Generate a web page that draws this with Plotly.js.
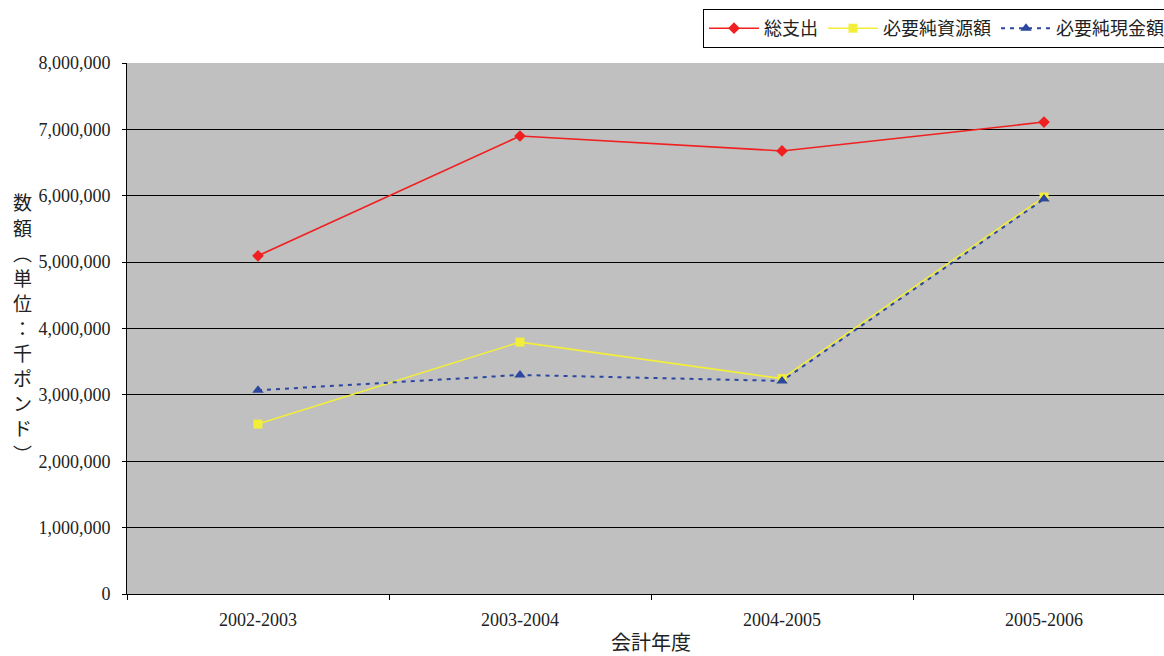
<!DOCTYPE html>
<html>
<head>
<meta charset="utf-8">
<script src="https://cdn.plot.ly/plotly-3.0.1.min.js"></script>
<style>
html,body{margin:0;padding:0;overflow:hidden;background:#fff;width:1164px;height:656px;}
#chart{width:1180px;height:656px;}
</style>
</head>
<body>
<div id="chart"></div>
<script>
const categories = ["2002-2003", "2003-2004", "2004-2005", "2005-2006"];
const totalExpenditure = [5095000, 6900000, 6675000, 7110000];
const netResources = [2560000, 3795000, 3245000, 5980000];
const netCash = [3070000, 3300000, 3210000, 5950000];
const seriesNames = ["総支出", "必要純資源額", "必要純現金額"];
const yTickVals = [0, 1000000, 2000000, 3000000, 4000000, 5000000, 6000000, 7000000, 8000000];
const yTickText = ["0", "1,000,000", "2,000,000", "3,000,000", "4,000,000", "5,000,000", "6,000,000", "7,000,000", "8,000,000"];
const xTitle = "会計年度";
const yTitleChars = ["数", "額", "︵", "単", "位", "：", "千", "ポ", "ン", "ド", "︶"];

const FONT = "Liberation Serif, Noto Sans CJK JP, serif";
const JFONT = "Noto Sans CJK JP, Liberation Serif, sans-serif";

const traces = [
  {x: categories, y: totalExpenditure, name: seriesNames[0], type: "scatter", mode: "lines+markers",
   line: {color: "#F02020", width: 1.6}, marker: {symbol: "diamond", size: 9, color: "#F02020"}},
  {x: categories, y: netResources, name: seriesNames[1], type: "scatter", mode: "lines+markers",
   line: {color: "#F2EE3A", width: 1.6}, marker: {symbol: "square", size: 9, color: "#F2EE3A"}},
  {x: categories, y: netCash, name: seriesNames[2], type: "scatter", mode: "lines+markers",
   line: {color: "#2B47A0", width: 2, dash: "4px,5px"}, marker: {symbol: "triangle-up", size: 10, color: "#2B47A0"}}
];

// vertical y-axis title: one annotation per character, stacked top to bottom
const plotTop = 63, plotH = 531, plotL = 127, plotW = 1048;
const titleTopPx = 202, titleStepPx = 25.1, titleXPx = 22;
const titleAnnotations = yTitleChars.map((ch, i) => ({
  xref: "paper", yref: "paper",
  x: (titleXPx - plotL) / plotW,
  y: (plotTop + plotH - (titleTopPx + i * titleStepPx)) / plotH,
  xanchor: "center", yanchor: "middle",
  text: ch, showarrow: false,
  font: {family: JFONT, size: 19, color: "#222"}
}));

const layout = {
  width: 1180, height: 656,
  margin: {l: plotL, r: 5, t: plotTop, b: 62},
  paper_bgcolor: "#ffffff",
  plot_bgcolor: "#C0C0C0",
  font: {family: FONT, size: 16, color: "#222"},
  showlegend: true,
  legend: {
    orientation: "h", x: (703 - plotL) / plotW, y: (plotTop + plotH - 9) / plotH, xanchor: "left", yanchor: "top",
    bgcolor: "#ffffff", bordercolor: "#000", borderwidth: 1,
    font: {family: JFONT, size: 18, color: "#222"},
    itemwidth: 50, tracegroupgap: 0
  },
  xaxis: {
    type: "category", range: [-0.5, 3.5], tickson: "boundaries",
    showline: true, linecolor: "#000", linewidth: 1,
    ticks: "outside", ticklen: 5, tickcolor: "#000",
    showgrid: false, zeroline: false,
    tickfont: {family: FONT, size: 18, color: "#222"},
    ticklabelstandoff: 9,
    title: {text: xTitle, font: {family: JFONT, size: 20, color: "#222"}, standoff: 14}
  },
  yaxis: {
    range: [0, 8000000], tickvals: yTickVals, ticktext: yTickText,
    showline: true, linecolor: "#000", linewidth: 1,
    ticks: "outside", ticklen: 4, tickcolor: "#000",
    showgrid: true, gridcolor: "#000", gridwidth: 1, zeroline: false,
    tickfont: {family: FONT, size: 18, color: "#222"},
    ticklabelstandoff: 8
  },
  annotations: titleAnnotations
};

Plotly.newPlot("chart", traces, layout, {staticPlot: true, displayModeBar: false});
</script>
</body>
</html>
